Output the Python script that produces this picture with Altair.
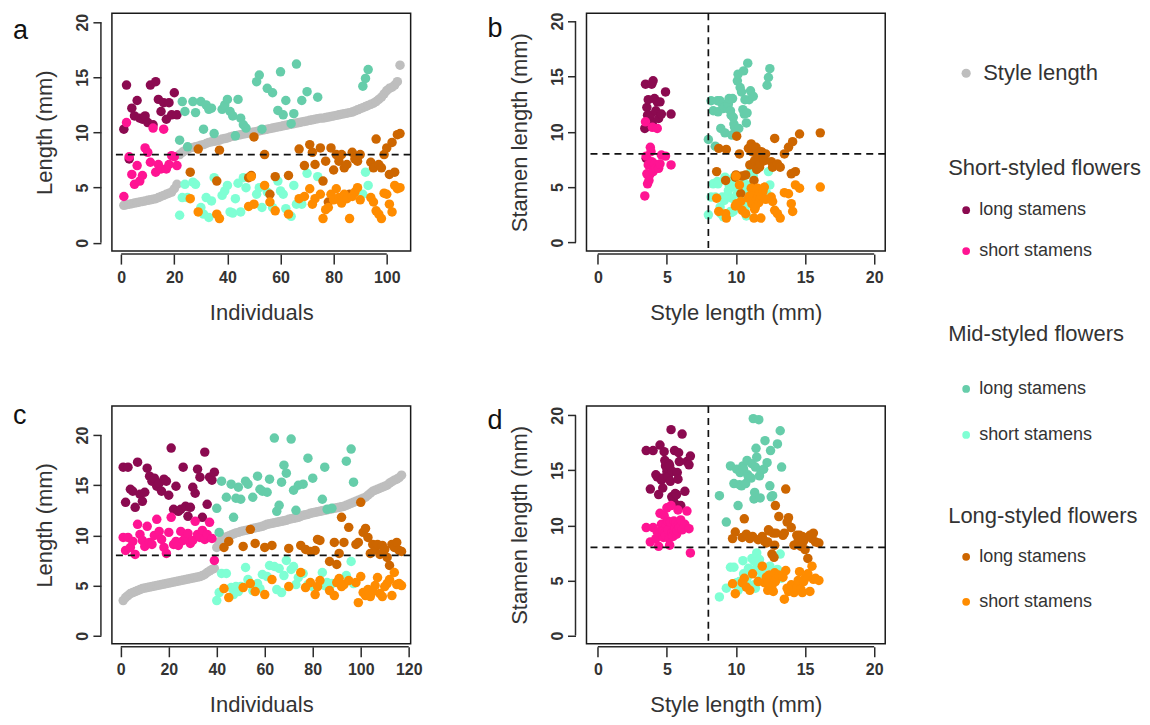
import altair as alt
import pandas as pd

THRESHOLD = 8

# ---------------- Population 1 (panels a, b) : individuals ranked by style length
A_STYLE = [3.4, 3.45, 3.5, 3.55, 3.6, 3.65, 3.7, 3.75, 3.8, 3.85, 3.9, 3.95, 4.0, 4.1, 4.2, 4.3, 4.4, 4.5, 4.6, 4.9, 5.3,
           8.0, 8.2, 8.35, 8.5, 8.6, 8.65, 8.7, 8.75, 8.85, 8.9, 9.0, 9.1, 9.15, 9.2, 9.25, 9.3, 9.4, 9.45, 9.5,
           9.6, 9.65, 9.7, 9.75, 9.8, 9.85, 9.9, 9.95, 10.0, 10.05, 10.1, 10.15, 10.2, 10.25, 10.3, 10.35, 10.4, 10.45, 10.5, 10.55,
           10.6, 10.65, 10.7, 10.75, 10.8, 10.85, 10.9, 10.95, 11.0, 11.05, 11.1, 11.15, 11.2, 11.25, 11.3, 11.3, 11.35, 11.4, 11.45, 11.5,
           11.55, 11.6, 11.65, 11.7, 11.75, 11.8, 11.85, 11.95, 12.05, 12.15, 12.25, 12.35, 12.45, 12.55, 12.65, 12.8, 13.0, 13.2, 13.5, 13.8,
           14.0, 14.1, 14.3, 14.6, 16.1]
A_MORPH = list("S" * 21 + "MMMMLMMLMMMMMMLLMMM" + "MMMMMMMLLLMMMLMLMLMM" + "MMLMMMLMLMLLLMLLLLLL" + "L" * 10 + "MMM" + "L" * 12)
A_LONG = [10.3, 14.3, 7.6, 12.2, 11.5, 12.9, 11.3, 11.2, 11.5, 10.9, 14.3, 10.7, 14.6, 13.0, 11.9, 12.7, 11.2, 12.7, 11.6, 13.6, 11.6,
          9.3, 12.8, 11.9, 8.7, 6.4, 12.8, 11.8, 8.5, 12.8, 10.3, 12.5, 12.1, 12.2, 9.9, 5.6, 8.4, 12.1, 12.5, 13.0,
          11.9, 11.5, 9.7, 13.0, 11.3, 10.7, 10.4, 5.9, 6.1, 9.6, 14.6, 15.2, 10.3, 8.0, 14.0, 4.4, 13.6, 6.0, 12.0, 15.5,
          11.6, 12.9, 6.1, 10.8, 11.7, 16.2, 8.5, 12.9, 7.0, 13.7, 8.9, 8.2, 7.1, 13.2, 8.6, 5.6, 7.4, 3.7, 8.6, 6.6,
          8.0, 7.4, 8.0, 6.8, 7.1, 4.4, 8.2, 7.6, 7.4, 8.0, 14.2, 14.9, 15.7, 7.3, 6.8, 9.4, 7.1, 6.8, 8.0, 8.6, 6.2, 9.1, 6.4, 9.8, 9.9]
A_SHORT = [4.2, 10.9, 7.8, 6.2, 5.3, 7.0, 5.6, 6.1, 8.6, 8.2, 7.3, 10.4, 6.4, 7.1, 6.7, 10.3, 6.7, 7.1, 7.9, 7.8, 7.0,
           2.5, 4.1, 5.3, 4.1, 4.0, 5.5, 5.3, 2.8, 3.2, 2.6, 4.1, 2.3, 3.8, 5.9, 2.6, 2.2, 4.3, 4.7, 5.2,
           2.8, 2.7, 4.0, 5.4, 2.8, 5.9, 5.0, 3.3, 6.0, 3.5, 4.4, 5.0, 3.2, 5.2, 4.6, 3.7, 3.2, 2.9, 5.6, 4.7,
           4.4, 3.1, 2.6, 2.4, 5.2, 3.5, 4.0, 3.5, 4.2, 6.3, 4.9, 3.5, 4.0, 6.0, 4.4, 2.2, 3.0, 3.2, 4.4, 3.9,
           4.9, 4.1, 3.6, 4.4, 4.0, 2.2, 4.2, 4.6, 5.0, 3.9, 4.4, 6.4, 5.2, 4.1, 3.7, 2.9, 2.6, 2.2, 4.5, 4.4, 3.5, 2.8, 5.2, 4.9, 5.0]

# ---------------- Population 2 (panels c, d)
C_STYLE = [3.5, 3.8, 4.0, 4.2, 4.3, 4.4, 4.5, 4.6, 4.7, 4.75, 4.8, 4.85, 4.9, 4.95, 5.0, 5.05, 5.1, 5.15, 5.2, 5.25,
           5.3, 5.35, 5.4, 5.45, 5.5, 5.55, 5.6, 5.65, 5.7, 5.75, 5.8, 5.85, 5.9, 6.0, 6.1, 6.3, 6.45, 6.6, 6.7,
           8.8, 9.3, 9.6, 9.75, 9.85, 9.95, 10.05, 10.15, 10.25, 10.3, 10.4, 10.45, 10.5, 10.55, 10.6, 10.7, 10.75, 10.8, 10.85, 10.9, 11.0,
           11.1, 11.15, 11.2, 11.25, 11.3, 11.35, 11.4, 11.45, 11.5, 11.6, 11.65, 11.7, 11.75, 11.8, 11.9, 12.0, 12.05, 12.1, 12.2, 12.25,
           12.3, 12.35, 12.4, 12.45, 12.5, 12.55, 12.6, 12.65, 12.7, 12.75, 12.8, 12.85, 12.9, 13.0, 13.1, 13.2, 13.3, 13.4, 13.5, 13.6,
           13.7, 13.8, 14.0, 14.2, 14.4, 14.5, 14.6, 14.7, 14.8, 14.9, 15.0, 15.2, 15.35, 15.5, 15.6, 15.75, 16.0]
C_MORPH = list("S" * 39 + "MMMLMLMMMMMLMMLMLMMML" + "MMLMMMMMMLMMMMLMLMLM" + "LLLMMMLMLLLLLMLMMLLL" + "L" * 17)
C_LONG = [16.8, 13.3, 16.8, 14.6, 14.4, 12.8, 17.3, 14.1, 13.4, 14.3, 16.7, 15.9, 15.4, 15.7, 14.9, 15.2, 14.4, 15.6, 15.4, 14.0,
          18.7, 12.6, 14.9, 12.4, 12.6, 16.8, 12.9, 11.9, 12.8, 14.8, 14.2, 16.6, 15.8, 11.8, 18.3, 13.1, 15.8, 15.5, 16.3,
          12.7, 10.3, 15.4, 8.8, 13.8, 9.4, 15.1, 11.8, 13.7, 14.8, 13.6, 8.9, 15.4, 15.1, 10.6, 13.8, 9.2, 15.9, 14.6, 14.4, 8.8,
          14.3, 15.6, 9.0, 19.7, 12.4, 13.0, 15.3, 17.0, 16.2, 8.7, 19.6, 14.5, 12.5, 15.0, 9.0, 15.1, 8.6, 17.7, 8.4, 15.7,
          8.5, 9.6, 9.5, 13.6, 16.8, 12.6, 7.4, 12.7, 9.3, 7.1, 8.2, 11.8, 9.3, 17.4, 10.8, 18.6, 15.3, 9.1, 9.3, 13.3,
          10.3, 10.7, 9.8, 8.2, 9.1, 8.6, 9.1, 8.1, 9.0, 8.6, 7.8, 7.0, 9.1, 8.8, 9.3, 8.5, 8.4]
C_SHORT = [9.8, 8.5, 9.8, 8.8, 9.4, 8.1, 11.1, 10.1, 9.5, 8.9, 10.9, 9.3, 9.1, 10.0, 11.6, 10.4, 9.6, 8.8, 8.2, 10.3,
           11.8, 9.1, 9.4, 9.0, 10.4, 9.5, 9.8, 10.2, 9.2, 9.5, 11.4, 10.1, 9.8, 10.5, 9.6, 10.1, 11.3, 9.7, 7.5,
           3.5, 4.3, 6.2, 4.7, 6.2, 3.8, 4.8, 4.1, 4.9, 4.4, 4.9, 4.8, 6.8, 5.6, 5.2, 4.5, 4.4, 5.2, 4.7, 6.1, 4.1,
           5.9, 7.0, 5.6, 6.9, 4.6, 6.7, 4.3, 6.0, 7.5, 4.9, 6.6, 6.9, 5.1, 5.8, 6.3, 6.2, 4.8, 5.1, 5.3, 4.9,
           4.1, 4.9, 5.5, 6.3, 5.0, 5.3, 4.5, 5.2, 4.0, 5.3, 5.7, 4.9, 5.1, 6.0, 5.5, 7.4, 5.2, 5.3, 3.3, 5.9,
           4.3, 4.0, 4.6, 3.9, 4.4, 5.0, 5.8, 4.2, 3.9, 4.9, 5.2, 5.6, 4.0, 6.3, 5.1, 5.2, 5.0]

for arrs in [(A_STYLE, A_MORPH, A_LONG, A_SHORT), (C_STYLE, C_MORPH, C_LONG, C_SHORT)]:
    assert len(set(len(a) for a in arrs)) == 1, [len(a) for a in arrs]

GROUPS = ["S_long", "S_short", "M_long", "M_short", "L_long", "L_short"]
COLORS = ["#8B0A50", "#FF1493", "#66CDAA", "#7FFFD4", "#CD6600", "#FF8C00"]
GRAY = "#BEBEBE"
INK = "#2a2a2a"

LEGEND_ITEMS = [
    ("dot", "Style length", GRAY),
    ("head", "Short-styled flowers", None),
    ("dot", "long stamens", COLORS[0]),
    ("dot", "short stamens", COLORS[1]),
    ("head", "Mid-styled flowers", None),
    ("dot", "long stamens", COLORS[2]),
    ("dot", "short stamens", COLORS[3]),
    ("head", "Long-styled flowers", None),
    ("dot", "long stamens", COLORS[4]),
    ("dot", "short stamens", COLORS[5]),
]
LEGEND_Y = [60, 155, 197, 238, 321, 376, 422, 503, 544, 589]

FONT = "Liberation Sans"
TFONT = "Liberation Sans, Arial, sans-serif"
W, H = 299, 238


def frames(style, morph, long_, short_):
    n = len(style)
    sdf = pd.DataFrame({"ind": list(range(1, n + 1)), "style": style})
    rows = []
    for k in range(n):
        rows.append({"ind": k + 1, "style": style[k], "stamen": long_[k], "group": morph[k] + "_long"})
        rows.append({"ind": k + 1, "style": style[k], "stamen": short_[k], "group": morph[k] + "_short"})
    df = pd.DataFrame(rows)
    df["ord"] = df["group"].map({g: i for i, g in enumerate(GROUPS)})
    df = df.sort_values(["ord", "ind"]).reset_index(drop=True)
    return sdf, df


def panel(style, morph, long_, short_, scatter, xdom, xticks, ydom, xtitle, ytitle, letter, letter_y, legend=False):
    sdf, df = frames(style, morph, long_, short_)
    xs = alt.Scale(domain=xdom, nice=False, zero=False)
    ys = alt.Scale(domain=ydom, nice=False, zero=False)
    yticks = [0, 5, 10, 15, 20]
    xax = alt.Axis(values=xticks, title=xtitle, domain=False, offset=3, tickSize=10, tickWidth=1.5,
                   tickColor=INK, labelPadding=5, titlePadding=17, labelFlush=False, labelOverlap=False,
                   grid=False)
    yax = alt.Axis(values=yticks, title=ytitle, domain=False, offset=11, tickSize=8, tickWidth=1.5,
                   tickColor=INK, labelAngle=270, labelAlign="center", labelBaseline="bottom",
                   labelPadding=2, titlePadding=18, labelFlush=False, labelOverlap=False, grid=False)
    xf = "style:Q" if scatter else "ind:Q"
    layers = []
    if not scatter:
        layers.append(alt.Chart(sdf).mark_circle(size=90, opacity=1, color=GRAY).encode(
            x=alt.X("ind:Q", scale=xs, axis=xax), y=alt.Y("style:Q", scale=ys, axis=yax)))
    layers.append(alt.Chart(df).mark_circle(size=90, opacity=1).encode(
        x=alt.X(xf, scale=xs, axis=xax),
        y=alt.Y("stamen:Q", scale=ys, axis=yax),
        color=alt.Color("group:N", scale=alt.Scale(domain=GROUPS, range=COLORS), legend=None),
        order=alt.Order("ord:Q")))
    thr = pd.DataFrame({"v": [THRESHOLD]})
    layers.append(alt.Chart(thr).mark_rule(color="#111", strokeWidth=1.7, strokeDash=[7, 5]).encode(
        y=alt.Y("v:Q", scale=ys, axis=yax)))
    if scatter:
        layers.append(alt.Chart(thr).mark_rule(color="#111", strokeWidth=1.7, strokeDash=[7, 5]).encode(
            x=alt.X("v:Q", scale=xs, axis=xax)))
    # R-style axis lines spanning first..last tick
    xl = pd.DataFrame({"a": [xticks[0]], "b": [xticks[-1]]})
    layers.append(alt.Chart(xl).mark_rule(color=INK, strokeWidth=1.5).encode(
        x=alt.X("a:Q", scale=xs, axis=xax), x2="b:Q", y=alt.value(H + 3)))
    yl = pd.DataFrame({"a": [yticks[0]], "b": [yticks[-1]]})
    layers.append(alt.Chart(yl).mark_rule(color=INK, strokeWidth=1.5).encode(
        y=alt.Y("a:Q", scale=ys, axis=yax), y2="b:Q", x=alt.value(-11)))
    layers.append(alt.Chart(pd.DataFrame({"t": [letter]})).mark_text(
        align="left", baseline="alphabetic", fontSize=27, font=FONT, color="#111").encode(
        text="t:N", x=alt.value(-99), y=alt.value(letter_y)))
    if legend:
        ox, oy = 586, 13
        for (kind, label, color), yy in zip(LEGEND_ITEMS, LEGEND_Y):
            py = yy
            if kind == "head":
                layers.append(alt.Chart(pd.DataFrame({"t": [label]})).mark_text(
                    align="left", baseline="middle", fontSize=22, font=FONT, color="#333").encode(
                    text="t:N", x=alt.value(948 - ox), y=alt.value(py)))
            else:
                big = label == "Style length"
                layers.append(alt.Chart(pd.DataFrame({"t": [label]})).mark_circle(
                    size=85 if big else 60, opacity=1, color=color).encode(
                    x=alt.value(966 - ox), y=alt.value(py)))
                layers.append(alt.Chart(pd.DataFrame({"t": [label]})).mark_text(
                    align="left", baseline="middle", fontSize=22 if big else 18, font=FONT, color="#333").encode(
                    text="t:N", x=alt.value((983 if big else 979) - ox), y=alt.value(py)))
    return alt.layer(*layers).properties(width=W, height=H)


pa = panel(A_STYLE, A_MORPH, A_LONG, A_SHORT, False, [-3.5, 109], [0, 20, 40, 60, 80, 100],
           [-0.75, 20.8], "Individuals", "Length (mm)", "a", 26)
pb = panel(A_STYLE, A_MORPH, A_LONG, A_SHORT, True, [-0.82, 20.8], [0, 5, 10, 15, 20],
           [-0.78, 20.7], "Style length (mm)", "Stamen length (mm)", "b", 24, legend=True)
pc = panel(C_STYLE, C_MORPH, C_LONG, C_SHORT, False, [-3.7, 120.8], [0, 20, 40, 60, 80, 100, 120],
           [-0.8, 22.9], "Individuals", "Length (mm)", "c", 18)
pd_ = panel(C_STYLE, C_MORPH, C_LONG, C_SHORT, True, [-0.82, 20.8], [0, 5, 10, 15, 20],
            [-0.75, 20.85], "Style length (mm)", "Stamen length (mm)", "d", 23)

chart = alt.concat(pa, pb, pc, pd_, columns=2, spacing={"row": 155, "column": 176}, bounds="flush").configure_view(
    stroke="#1a1a1a", strokeWidth=1.5
).configure_axis(
    labelFont=FONT, labelFontSize=16, labelFontWeight="bold", labelColor="#333",
    titleFont=TFONT, titleFontSize=22, titleFontWeight="normal", titleColor="#333"
).properties(
    padding={"left": 4, "top": 3, "right": 0, "bottom": 4}, background="white"
)

chart.save("out.html", embed_options={"renderer": "svg", "actions": False})
